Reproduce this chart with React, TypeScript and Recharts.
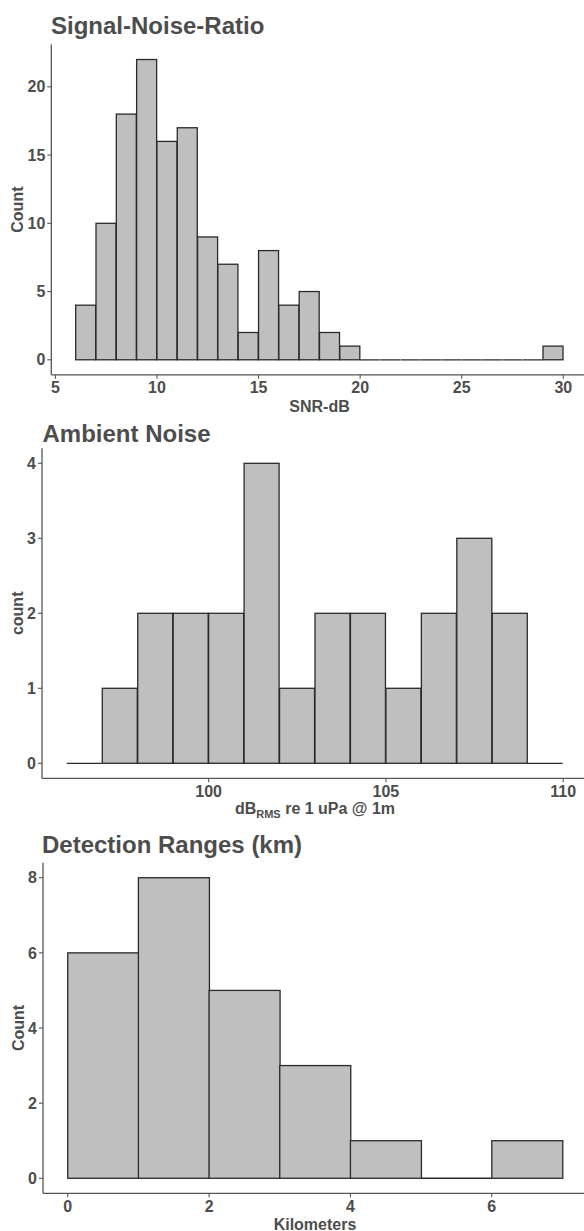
import React from 'react';
import { BarChart, Bar, XAxis, YAxis } from 'recharts';

// ---- Signal-Noise-Ratio histogram (bin width 1 dB) ----
const snrBinStarts = [6, 7, 8, 9, 10, 11, 12, 13, 14, 15, 16, 17, 18, 19, 20, 21, 22, 23, 24, 25, 26, 27, 28, 29];
const snrCounts = [4, 10, 18, 22, 16, 17, 9, 7, 2, 8, 4, 5, 2, 1, 0, 0, 0, 0, 0, 0, 0, 0, 0, 1];
const snrXTicks = [5, 10, 15, 20, 25, 30];
const snrYTicks = [0, 5, 10, 15, 20];

// ---- Ambient Noise histogram (bin width 1 dB) ----
const ambBinStarts = [96, 97, 98, 99, 100, 101, 102, 103, 104, 105, 106, 107, 108, 109];
const ambCounts = [0, 1, 2, 2, 2, 4, 1, 2, 2, 1, 2, 3, 2, 0];
const ambXTicks = [100, 105, 110];
const ambYTicks = [0, 1, 2, 3, 4];

// ---- Detection Ranges histogram (bin width 1 km) ----
const detBinStarts = [0, 1, 2, 3, 4, 5, 6];
const detCounts = [6, 8, 5, 3, 1, 0, 1];
const detXTicks = [0, 2, 4, 6];
const detYTicks = [0, 2, 4, 6, 8];

const BIN_WIDTH = 1;

const buildTable = (starts: number[], counts: number[]) =>
  starts.map((s, i) => ({ mid: s + BIN_WIDTH / 2, count: counts[i] }));

const snrData = buildTable(snrBinStarts, snrCounts);
const ambData = buildTable(ambBinStarts, ambCounts);
const detData = buildTable(detBinStarts, detCounts);

const TEXT = '#4d4d4d';
const AXIS = '#555555';
const BAR_STROKE = '#2a2a2a';
const BAR_FILL = '#bfbfbf';
const FONT = '"Liberation Sans", Arial, Helvetica, sans-serif';

const HistBar = (props: any) => {
  const { x, y, width, height } = props;
  if (x == null || y == null || !width) return null;
  if (!height) {
    return <line x1={x} x2={x + width} y1={y} y2={y} stroke={BAR_STROKE} strokeWidth={1.3} />;
  }
  return (
    <rect x={x} y={y} width={width} height={height} fill={BAR_FILL} stroke={BAR_STROKE} strokeWidth={1.3} />
  );
};

const tickStyle = { fill: TEXT, fontSize: 16, fontWeight: 700, fontFamily: FONT };

type PanelProps = {
  top: number;
  height: number;
  marginTop: number;
  marginRight: number;
  yAxisWidth: number;
  data: any[];
  xDomain: [number, number];
  yDomain: [number, number];
  xTicks: number[];
  yTicks: number[];
};

const Panel = (p: PanelProps) => (
  <div style={{ position: 'absolute', left: 0, top: p.top, width: 600, height: p.height }}>
    <BarChart
      width={600}
      height={p.height}
      data={p.data}
      margin={{ top: p.marginTop, right: p.marginRight, bottom: 0, left: 0 }}
      barCategoryGap={0}
      barGap={0}
    >
      <XAxis
        dataKey="mid"
        type="number"
        domain={p.xDomain}
        ticks={p.xTicks}
        allowDataOverflow
        height={30}
        tickSize={4}
        tickMargin={3}
        tick={tickStyle}
        axisLine={{ stroke: AXIS, strokeWidth: 1.3 }}
        tickLine={{ stroke: AXIS, strokeWidth: 1.1 }}
        interval={0}
      />
      <YAxis
        type="number"
        domain={p.yDomain}
        ticks={p.yTicks}
        allowDataOverflow
        width={p.yAxisWidth}
        tickSize={4}
        tickMargin={2}
        tick={tickStyle}
        axisLine={{ stroke: AXIS, strokeWidth: 1.3 }}
        tickLine={{ stroke: AXIS, strokeWidth: 1.1 }}
        interval={0}
      />
      <Bar dataKey="count" isAnimationActive={false} shape={HistBar} />
    </BarChart>
  </div>
);

const titleStyle = { fill: TEXT, fontSize: 24, fontWeight: 700, fontFamily: FONT } as const;
const axisTitleStyle = { fill: TEXT, fontSize: 16, fontWeight: 700, fontFamily: FONT } as const;

const YTitle = ({ x, y, text }: { x: number; y: number; text: string }) => (
  <text x={x} y={y} textAnchor="middle" transform={`rotate(-90, ${x}, ${y})`} style={axisTitleStyle}>
    {text}
  </text>
);

export default function App() {
  return (
    <div
      style={{
        position: 'absolute',
        left: 0,
        top: 0,
        width: 584,
        height: 1231,
        overflow: 'hidden',
        background: '#ffffff',
        fontFamily: FONT,
      }}
    >
      <Panel
        top={0}
        height={404.8}
        marginTop={44.5}
        marginRight={12.3}
        yAxisWidth={51.3}
        data={snrData}
        xDomain={[4.8, 31.2]}
        yDomain={[-1.1, 23.1]}
        xTicks={snrXTicks}
        yTicks={snrYTicks}
      />
      <Panel
        top={410}
        height={398.3}
        marginTop={38.3}
        marginRight={12}
        yAxisWidth={42}
        data={ambData}
        xDomain={[95.3, 110.7]}
        yDomain={[-0.2, 4.2]}
        xTicks={ambXTicks}
        yTicks={ambYTicks}
      />
      <Panel
        top={820}
        height={403.3}
        marginTop={42.7}
        marginRight={12.8}
        yAxisWidth={43}
        data={detData}
        xDomain={[-0.35, 7.35]}
        yDomain={[-0.4, 8.4]}
        xTicks={detXTicks}
        yTicks={detYTicks}
      />
      <svg
        width={584}
        height={1231}
        style={{ position: 'absolute', left: 0, top: 0, pointerEvents: 'none' }}
      >
        <text x={51} y={34} style={titleStyle}>Signal-Noise-Ratio</text>
        <text x={42.5} y={442.3} style={titleStyle}>Ambient Noise</text>
        <text x={42} y={853.3} style={titleStyle}>Detection Ranges (km)</text>

        <text x={319.5} y={411.7} textAnchor="middle" style={axisTitleStyle}>SNR-dB</text>
        <text x={315} y={814} textAnchor="middle" style={axisTitleStyle}>
          dB
          <tspan fontSize={11} dy={4}>RMS</tspan>
          <tspan dy={-4}> re 1 uPa @ 1m</tspan>
        </text>
        <text x={315} y={1229.5} textAnchor="middle" style={axisTitleStyle}>Kilometers</text>

        <YTitle x={23.5} y={209.6} text="Count" />
        <YTitle x={23.5} y={613.3} text="count" />
        <YTitle x={23.5} y={1028} text="Count" />
      </svg>
    </div>
  );
}
